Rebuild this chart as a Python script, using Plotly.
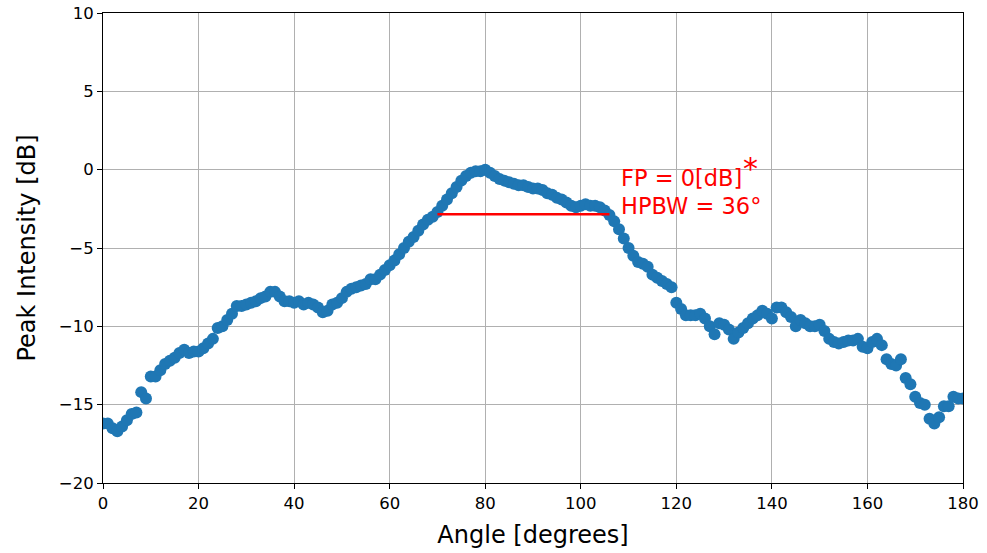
import plotly.graph_objects as go

angles = list(range(0, 181))
intensity = [
    -16.2, -16.2, -16.5, -16.7, -16.4, -16.0, -15.6, -15.5, -14.2, -14.6,
    -13.2, -13.2, -12.8, -12.4, -12.2, -12.0, -11.7, -11.5, -11.7, -11.6,
    -11.6, -11.4, -11.1, -10.8, -10.1, -10.0, -9.6, -9.2, -8.7, -8.7,
    -8.6, -8.5, -8.4, -8.2, -8.1, -7.8, -7.8, -8.1, -8.4, -8.4,
    -8.5, -8.4, -8.6, -8.5, -8.6, -8.8, -9.1, -9.0, -8.6, -8.5,
    -8.2, -7.8, -7.6, -7.5, -7.4, -7.3, -7.0, -7.0, -6.7, -6.4,
    -6.1, -5.8, -5.4, -5.0, -4.6, -4.3, -3.9, -3.5, -3.2, -3.0,
    -2.7, -2.3, -1.9, -1.5, -1.1, -0.7, -0.4, -0.2, -0.1, -0.1,
    0.0, -0.2, -0.4, -0.6, -0.7, -0.8, -0.9, -1.0, -1.0, -1.1,
    -1.2, -1.2, -1.3, -1.5, -1.6, -1.8, -1.9, -2.1, -2.3, -2.4,
    -2.3, -2.2, -2.3, -2.3, -2.4, -2.6, -2.9, -3.3, -3.8, -4.4,
    -5.0, -5.5, -5.9, -6.0, -6.2, -6.7, -6.9, -7.1, -7.3, -7.5,
    -8.5, -8.9, -9.3, -9.3, -9.3, -9.2, -9.5, -10.0, -10.5, -9.8,
    -9.9, -10.2, -10.8, -10.4, -10.1, -9.8, -9.5, -9.3, -9.0, -9.2,
    -9.5, -8.8, -8.8, -9.1, -9.4, -10.0, -9.6, -9.8, -10.0, -10.0,
    -9.9, -10.3, -10.8, -11.0, -11.1, -11.0, -10.9, -10.9, -10.8, -11.3,
    -11.4, -11.0, -10.8, -11.2, -12.1, -12.4, -12.5, -12.1, -13.3, -13.7,
    -14.5, -14.9, -15.0, -15.9, -16.2, -15.8, -15.1, -15.1, -14.5, -14.6,
    -14.6,
]
hpbw_x = [70, 106]
hpbw_y = [-2.85, -2.85]
fp_text = "FP = 0[dB]"
hpbw_text = "HPBW = 36°"
x_ticks = [0, 20, 40, 60, 80, 100, 120, 140, 160, 180]
y_ticks = [-20, -15, -10, -5, 0, 5, 10]

font_family = "DejaVu Sans"

fig = go.Figure()
fig.add_trace(go.Scatter(
    x=angles, y=intensity, mode="markers",
    marker=dict(color="#1f77b4", size=12, line=dict(width=0)),
    showlegend=False, cliponaxis=True,
))
fig.add_trace(go.Scatter(
    x=hpbw_x, y=hpbw_y, mode="lines",
    line=dict(color="red", width=2.5), showlegend=False,
))

fig.add_annotation(x=107.9, y=-0.55, xref="x", yref="y", text=fp_text,
                   showarrow=False, xanchor="left", yanchor="middle",
                   font=dict(family=font_family, size=22.5, color="red"))
fig.add_annotation(x=107.9, y=-2.3, xref="x", yref="y", text=hpbw_text,
                   showarrow=False, xanchor="left", yanchor="middle",
                   font=dict(family=font_family, size=22.5, color="red"))
fig.add_annotation(x=135.6, y=0.1, xref="x", yref="y", text="*",
                   showarrow=False, xanchor="center", yanchor="middle",
                   font=dict(family=font_family, size=30, color="red"))

axis_common = dict(
    showgrid=True, gridcolor="#b0b0b0", gridwidth=1,
    showline=True, linecolor="black", linewidth=1, mirror=True,
    ticks="outside", ticklen=5, tickcolor="black", tickwidth=1,
    zeroline=False, automargin=False,
    tickfont=dict(family=font_family, size=16.5, color="black"),
)

fig.update_xaxes(range=[0, 180], tickvals=x_ticks,
                 title=dict(text="Angle [degrees]", standoff=14,
                            font=dict(family=font_family, size=24, color="black")),
                 **axis_common)
fig.update_yaxes(range=[-20, 10], tickvals=y_ticks,
                 title=dict(text="Peak Intensity [dB]", standoff=16,
                            font=dict(family=font_family, size=24, color="black")),
                 **axis_common)

fig.update_layout(
    width=987, height=553,
    margin=dict(l=103, r=24, t=13, b=70),
    plot_bgcolor="white", paper_bgcolor="white",
    font=dict(family=font_family),
)

fig.write_html("out.html")
